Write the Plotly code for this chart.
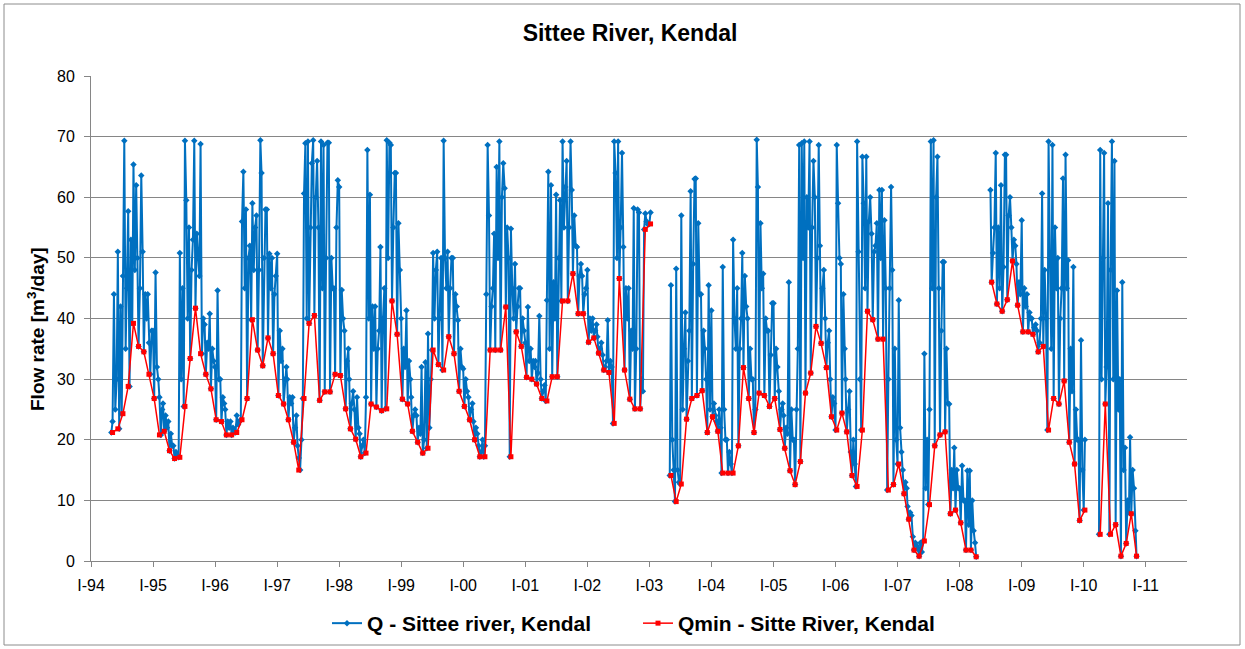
import plotly.graph_objects as go

# ---------------- data ----------------
# Q - daily-ish flow, here sampled ~weekly: one list of values per month (None = no data)
q_1994 = [None, None, None, None,
          [21.2, 23, 44, 25], [30, 51, 21.8, 42], [24.3, 47, 69.3, 35], [45, 57.7, 28.8, 53],
          [39.2, 65.4, 48, 62], [50, 35.4, 45, 63.6], [51, 34.5, 44, 40], [44, 36, 30.8, 38]]
q_1995 = [[38, 26.8, 47.6, 32], [30, 27, 20.8, 25], [26, 21.4, 24, 22], [23, 18.2, 21, 19],
          [19, 16.9, 18, 17.5], [17.1, 50.8, 30, 45], [25.5, 69.3, 59.5, 40], [55, 33.4, 48, 53],
          [69.3, 41.7, 54, 50], [47, 68.8, 34.2, 40], [39, 30.8, 36, 35], [40.8, 28.4, 35, 33]]
q_1996 = [[32, 23.3, 44.6, 30], [30, 23.0, 27, 26], [25, 20.8, 23, 22], [23, 20.8, 22, 21.5],
          [21.2, 24, 22.5, 23], [23.3, 56, 64.2, 45], [58, 26.8, 50, 52], [39.8, 59, 48, 55],
          [57, 34.8, 48, 69.4], [64, 32.2, 50, 58], [58, 36.8, 50.7, 45], [50, 34.2, 44, 47]]
q_1997 = [[50.7, 27.3, 38, 33], [35, 25.9, 30, 32], [30, 23.3, 27, 26], [27, 19.6, 22, 24],
          [19, 17, 15.0, 20], [26.8, 60.6, 68.9, 40], [69.2, 39.2, 55, 65.6], [69.4, 40.5, 60, 66],
          [55, 26.5, 69.2, 45], [68.6, 27.9, 50, 69], [69, 27.9, 50, 45], [45, 30.8, 55, 62.8]]
q_1998 = [[61.7, 30.6, 44.7, 40], [38, 25.1, 33, 35], [30, 21.8, 26, 28], [25, 20.1, 27, 22],
          [21, 17.2, 19, 20], [17.8, 27, 67.8, 40], [60.4, 25.9, 42, 35], [42, 25.4, 35, 38],
          [51.8, 24.8, 40, 45], [25.1, 69.4, 50, 69], [68.6, 42.9, 55, 64], [64, 37.4, 55.7, 48]]
q_1999 = [[40, 26.7, 35, 32], [41.3, 25.9, 33, 30], [27, 21.4, 24, 25], [24, 19.6, 22, 21],
          [32, 17.8, 20, 32.8], [18.6, 37.5, 22, 30], [34.8, 50.8, 40, 48], [51, 32.4, 40, 50],
          [31.5, 69.3, 50, 45], [51, 37.0, 45, 50], [50, 34.2, 44, 42], [39.7, 28.0, 35, 32]]
q_2000 = [[31.7, 25.5, 30, 28], [27, 23.3, 25, 26], [23, 20.0, 22, 21], [19, 17.2, 18, 20],
          [17.2, 19, 44, 68.6], [57, 34.8, 42, 45], [54, 34.8, 65, 50], [69.2, 34.8, 60, 65.6],
          [61.5, 41.9, 55, 50], [17.2, 54.8, 45, 40], [49, 37.8, 42, 45], [45, 35.4, 40, 38]]
q_2001 = [[36, 30.3, 41.9, 33], [35, 30.0, 33, 32], [33, 29.2, 31, 40.4], [30, 26.8, 28, 29],
          [26.4, 43, 64.2, 35], [62, 30.4, 46, 40], [60.4, 30.4, 50, 59.5], [42.9, 69.2, 55, 61.7],
          [66, 42.9, 55, 69.2], [61.2, 47.4, 57, 52], [51.8, 40.8, 47, 49], [47, 40.8, 44, 45]]
q_2002 = [[48, 36.1, 40, 38], [40, 36.8, 38, 39], [37, 34.3, 35, 36], [34, 31.5, 32, 33],
          [39.7, 31.1, 33, 32], [22.7, 69.2, 64, 50], [69.2, 46.6, 55, 67.3], [51.8, 31.5, 45, 40],
          [45, 26.7, 38, 35], [58.2, 25.1, 35, 58], [57.5, 25.1, 30, 28], [54.7, 57.3, 56, 55.5]]
q_2003 = [[55.6, 57.5], None, None, None,
          [14.1, 45.5, 20, 15], [9.8, 48.2, 15, 13], [12.7, 57, 25, 35], [41, 23.4, 33, 38],
          [61, 26.8, 49, 63], [63.1, 27.3, 55.7, 44], [44, 28.1, 38, 35], [30, 21.2, 45.5, 25]]
q_2004 = [[41.3, 23.8, 26, 24], [23, 21.4, 25, 22], [14.5, 48.5, 25, 20], [20, 14.5, 18, 16],
          [14.5, 53, 40, 35], [45, 19.0, 35, 40], [50.8, 31.9, 47, 42], [40, 26.8, 35, 30],
          [30, 21.2, 25, 69.5], [61.7, 27.7, 55.7, 45], [47.4, 27.3, 40, 38], [38, 25.5, 34, 42.5]]
q_2005 = [[42.5, 26.8, 35, 32], [28, 21.7, 25, 26], [24, 18.6, 22, 21], [46, 14.9, 25, 20],
          [20, 12.6, 25, 35], [68.6, 16.4, 68.9, 50], [69.2, 27.7, 60, 55], [69.2, 31.0, 55, 66],
          [60, 38.7, 50, 68.6], [52, 35.9, 45, 48], [40, 31.9, 36, 38], [30, 23.8, 27, 26]]
q_2006 = [[21.6, 68.6, 59, 50], [49, 24.4, 44, 35], [30, 21.3, 25, 28], [18, 14.1, 20, 16],
          [12.3, 69.2, 51, 30], [21.6, 66.7, 59, 45], [66.7, 41.2, 56, 60], [54, 39.8, 51, 52],
          [55.7, 36.6, 61.2, 50], [61.2, 36.6, 56.2, 45], [11.7, 30, 45, 61.7], [48, 12.6, 35, 20]]
q_2007 = [[16.0, 43, 22, 18], [15, 11.1, 13, 12], [9, 6.9, 8, 7.5], [4, 1.8, 3, 2.5],
          [2, 0.8, 3, 1.5], [3.3, 34.2, 12, 20], [9.3, 25, 69.2, 45], [69.4, 19.0, 60, 66.7],
          [45, 20.8, 38, 49.3], [49.3, 21.3, 35, 26], [25.9, 7.8, 15, 12], [18.7, 8.4, 15, 12]]
q_2008 = [[12, 6.3, 15.7, 10], [10, 1.8, 14.9, 6], [14.9, 1.8, 10, 5], [3, 0.7], None, None,
          [61.2, 46.0, 50.8, 55], [67.3, 42.4, 55, 45], [62, 41.2, 48.5, 67], [67, 43.1, 57, 60],
          [55, 49.5, 53, 52], [49, 42.2, 46, 44]]
q_2009 = [[56.2, 37.8, 45, 42], [44, 37.8, 41, 40], [40, 37.4, 38.5, 39], [38, 34.5, 36, 40],
          [60.6, 35.4, 48, 40], [21.6, 69.2, 50, 35], [68.6, 26.8, 55, 45], [50, 25.9, 40, 45],
          [63.1, 29.7, 67, 45], [49.6, 19.6, 35, 28], [48.5, 16.0, 25, 20], [20, 6.7, 36.4, 15]]
q_2010 = [[8.4, 20], None, None,
          [4.4, 67.8, 30, 50], [67.3, 25.9, 32, 59], [4.4, 48, 69.2, 30], [66, 6.0, 44.6, 25],
          [30, 0.8, 46, 15], [18.7, 2.9, 10, 8], [20.4, 7.8, 15, 12], [5, 0.8], None]

# Qmin - monthly minimum (None = no data)
qmin_1994 = [None, None, None, None, 21.2, 21.8, 24.3, 28.8, 39.2, 35.4, 34.5, 30.8]
qmin_1995 = [26.8, 20.8, 21.4, 18.2, 16.9, 17.1, 25.5, 33.4, 41.7, 34.2, 30.8, 28.4]
qmin_1996 = [23.3, 23.0, 20.8, 20.8, 21.2, 23.3, 26.8, 39.8, 34.8, 32.2, 36.8, 34.2]
qmin_1997 = [27.3, 25.9, 23.3, 19.6, 15.0, 26.8, 39.2, 40.5, 26.5, 27.9, 27.9, 30.8]
qmin_1998 = [30.6, 25.1, 21.8, 20.1, 17.2, 17.8, 25.9, 25.4, 24.8, 25.1, 42.9, 37.4]
qmin_1999 = [26.7, 25.9, 21.4, 19.6, 17.8, 18.6, 34.8, 32.4, 31.5, 37.0, 34.2, 28.0]
qmin_2000 = [25.5, 23.3, 20.0, 17.2, 17.2, 34.8, 34.8, 34.8, 41.9, 17.2, 37.8, 35.4]
qmin_2001 = [30.3, 30.0, 29.2, 26.8, 26.4, 30.4, 30.4, 42.9, 42.9, 47.4, 40.8, 40.8]
qmin_2002 = [36.1, 36.8, 34.3, 31.5, 31.1, 22.7, 46.6, 31.5, 26.7, 25.1, 25.1, 54.7]
qmin_2003 = [55.6, None, None, None, 14.1, 9.8, 12.7, 23.4, 26.8, 27.3, 28.1, 21.2]
qmin_2004 = [23.8, 21.4, 14.5, 14.5, 14.5, 19.0, 31.9, 26.8, 21.2, 27.7, 27.3, 25.5]
qmin_2005 = [26.8, 21.7, 18.6, 14.9, 12.6, 16.4, 27.7, 31.0, 38.7, 35.9, 31.9, 23.8]
qmin_2006 = [21.6, 24.4, 21.3, 14.1, 12.3, 21.6, 41.2, 39.8, 36.6, 36.6, 11.7, 12.6]
qmin_2007 = [16.0, 11.1, 6.9, 1.8, 0.8, 3.3, 9.3, 19.0, 20.8, 21.3, 7.8, 8.4]
qmin_2008 = [6.3, 1.8, 1.8, 0.7, None, None, 46.0, 42.4, 41.2, 43.1, 49.5, 42.2]
qmin_2009 = [37.8, 37.8, 37.4, 34.5, 35.4, 21.6, 26.8, 25.9, 29.7, 19.6, 16.0, 6.7]
qmin_2010 = [8.4, None, None, 4.4, 25.9, 4.4, 6.0, 0.8, 2.9, 7.8, 0.8, None]

years = list(range(1994, 2011))
q_by_year = [q_1994, q_1995, q_1996, q_1997, q_1998, q_1999, q_2000, q_2001, q_2002,
             q_2003, q_2004, q_2005, q_2006, q_2007, q_2008, q_2009, q_2010]
qmin_by_year = [qmin_1994, qmin_1995, qmin_1996, qmin_1997, qmin_1998, qmin_1999, qmin_2000,
                qmin_2001, qmin_2002, qmin_2003, qmin_2004, qmin_2005, qmin_2006, qmin_2007,
                qmin_2008, qmin_2009, qmin_2010]
q_days = [1, 8, 16, 24]
qmin_day = 8

tick_years = list(range(1994, 2012))
tick_text = ["I-%02d" % (y % 100) for y in tick_years]

# ---------------- build series ----------------
q_x, q_y = [], []
for yr, months in zip(years, q_by_year):
    for m, vals in enumerate(months, start=1):
        if vals is None:
            if q_y and q_y[-1] is not None:
                q_x.append(f"{yr}-{m:02d}-01")
                q_y.append(None)
            continue
        for d, v in zip(q_days, vals):
            q_x.append(f"{yr}-{m:02d}-{d:02d}")
            q_y.append(v)

qm_x, qm_y = [], []
for yr, vals in zip(years, qmin_by_year):
    for m, v in enumerate(vals, start=1):
        if v is None and not (qm_y and qm_y[-1] is not None):
            continue
        qm_x.append(f"{yr}-{m:02d}-{qmin_day:02d}")
        qm_y.append(v)

FONT = "Liberation Sans, Arial, sans-serif"
GRID = "#868686"
BLUE = "#0070C0"
RED = "#FF0000"

fig = go.Figure()
fig.add_trace(go.Scatter(
    x=q_x, y=q_y, mode="lines+markers", name="Q - Sittee river, Kendal",
    line=dict(color=BLUE, width=2),
    marker=dict(symbol="diamond", size=5, color=BLUE),
    connectgaps=False))
fig.add_trace(go.Scatter(
    x=qm_x, y=qm_y, mode="lines+markers", name="Qmin - Sitte River, Kendal",
    line=dict(color=RED, width=1.5),
    marker=dict(symbol="square", size=5, color=RED),
    connectgaps=False))

L, R, T, B = 91, 58, 76, 88
W, H = 1245, 649
pw, ph = W - L - R, H - T - B

fig.update_layout(
    width=W, height=H,
    margin=dict(l=L, r=R, t=T, b=B, autoexpand=False),
    paper_bgcolor="white", plot_bgcolor="white",
    font=dict(family=FONT, color="black"),
    title=dict(text="Sittee River, Kendal", x=630 / W, xanchor="center",
               y=1 - 33 / H, yanchor="middle",
               font=dict(size=23, family=FONT, color="black", weight="bold")),
    showlegend=True,
    legend=dict(orientation="h", xref="container", yref="container",
                x=638 / W, xanchor="center",
                y=1 - 603 / H, yanchor="top",
                entrywidth=266, entrywidthmode="pixels",
                font=dict(size=21, family=FONT, color="black", weight="bold"),
                bgcolor="rgba(0,0,0,0)"),
    xaxis=dict(type="date", range=["1994-01-01", "2011-09-01"],
               tickvals=[f"{y}-01-01" for y in tick_years], ticktext=tick_text,
               ticks="outside", ticklen=5, tickcolor=GRID, tickwidth=1,
               ticklabelstandoff=5,
               showline=True, linecolor=GRID, linewidth=1, showgrid=False, zeroline=False,
               tickfont=dict(size=16, family=FONT, color="black")),
    yaxis=dict(range=[0, 80], dtick=10, tick0=0,
               showgrid=True, gridcolor=GRID, gridwidth=1,
               ticks="outside", ticklen=6, tickcolor=GRID, tickwidth=1,
               ticklabelstandoff=6,
               showline=True, linecolor=GRID, linewidth=1, zeroline=False,
               tickfont=dict(size=16, family=FONT, color="black")),
    annotations=[dict(text="<b>Flow rate [m<sup>3</sup>/day]</b>", textangle=-90,
                      xref="paper", yref="paper",
                      x=(36 - L) / pw, y=(H - B - 329) / ph,
                      xanchor="center", yanchor="middle", showarrow=False,
                      font=dict(size=19, family=FONT, color="black"))],
    shapes=[dict(type="rect", xref="paper", yref="paper",
                 x0=(4 - L) / pw, x1=(1240 - L) / pw,
                 y0=(H - B - 645) / ph, y1=(H - B - 4) / ph,
                 line=dict(color="#8c8c8c", width=1), fillcolor="rgba(0,0,0,0)", layer="below")],
)

fig.write_html("out.html", config={"displayModeBar": False})
